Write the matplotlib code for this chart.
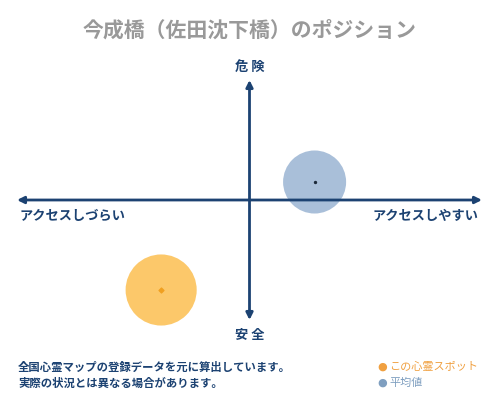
import matplotlib.pyplot as plt

plt.rcParams['font.family'] = ['Noto Sans CJK JP', 'DejaVu Sans']

# position data (x: access, y: danger), range -1..1
labels = ['この心霊スポット', '平均値']
access = [-0.38, 0.28]
danger = [-0.75, 0.15]

title = '今成橋（佐田沈下橋）のポジション'
note_lines = ['全国心霊マップの登録データを元に算出しています。',
              '実際の状況とは異なる場合があります。']

navy = '#1c4272'
fill_colors = ['#fcc86a', '#a9bfd9']
dot_colors = ['#f0a020', '#1c2a3a']
bubble_sizes = [2620, 2060]

fig = plt.figure(figsize=(5, 4), dpi=100)
ax = fig.add_axes([17 / 500, 80 / 400, 465 / 500, 240 / 400])
ax.set_xlim(-1, 1)
ax.set_ylim(-1, 1)
ax.axis('off')

# axes arrows (drawn over the bubbles)
arrow = dict(arrowstyle='-|>', color=navy, lw=2, mutation_scale=10,
             shrinkA=0, shrinkB=0)
for tip in [(1, 0), (-1, 0), (0, 1), (0, -1)]:
    ax.annotate('', xy=tip, xytext=(0, 0), arrowprops=arrow, zorder=5,
                annotation_clip=False)

for i in range(len(labels)):
    ax.scatter(access[i], danger[i], s=bubble_sizes[i], color=fill_colors[i],
               edgecolors='none', zorder=3, clip_on=False)
    ax.scatter(access[i], danger[i], s=6 if i == 0 else 2, color=dot_colors[i],
               marker='D' if i == 0 else 'o', zorder=4, clip_on=False)

fig.text(0.5, 1 - 30 / 400, title, ha='center', va='center', fontsize=15,
         color='#999999', fontweight='bold')

lab = dict(color=navy, fontsize=9.5, fontweight='bold', ha='center', va='center')
fig.text(249.5 / 500, 1 - 67 / 400, '危 険', **lab)
fig.text(249.5 / 500, 1 - 335 / 400, '安 全', **lab)
fig.text(73 / 500, 1 - 216 / 400, 'アクセスしづらい', **lab)
fig.text(426 / 500, 1 - 216 / 400, 'アクセスしやすい', **lab)

for j, line in enumerate(note_lines):
    fig.text(18 / 500, 1 - (367 + 16 * j) / 400, line, color=navy, fontsize=8.2,
             fontweight='bold', ha='left', va='center')

legend_text = ['#f0a040', '#7f9fc0']
for j, name in enumerate(labels):
    y = 1 - (367 + 16 * j) / 400
    fig.text(377 / 500, y, '●', color=legend_text[j], fontsize=8,
             ha='left', va='center', family=['DejaVu Sans'])
    fig.text(389 / 500, y, name, color=legend_text[j], fontsize=8,
             ha='left', va='center')

fig.savefig('out.png', dpi=100, facecolor='white')
